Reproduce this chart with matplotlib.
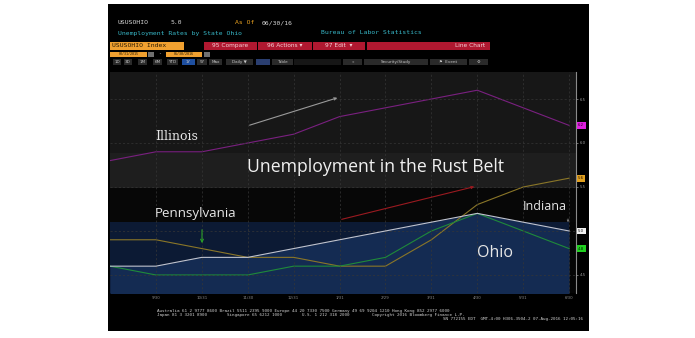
import matplotlib
matplotlib.use("Agg")
import matplotlib.pyplot as plt
from matplotlib.patches import Rectangle, FancyArrowPatch

# ---------------- data ----------------
months = ['8/31', '9/30', '10/31', '11/30', '12/31', '1/31', '2/29', '3/31', '4/30', '5/31', '6/30']
ohio = [4.6, 4.6, 4.7, 4.7, 4.8, 4.9, 5.0, 5.1, 5.2, 5.1, 5.0]
indiana = [4.6, 4.5, 4.5, 4.5, 4.6, 4.6, 4.7, 5.0, 5.2, 5.0, 4.8]
pennsylvania = [4.9, 4.9, 4.8, 4.7, 4.7, 4.6, 4.6, 4.9, 5.3, 5.5, 5.6]
illinois = [5.8, 5.9, 5.9, 6.0, 6.1, 6.3, 6.4, 6.5, 6.6, 6.4, 6.2]
yticks = [4.5, 5.0, 5.5, 6.0, 6.5]

W, H = 695, 338
fig = plt.figure(figsize=(W / 100, H / 100), dpi=100, facecolor='white')


def fx(x):
    return x / W


def fy(y):
    return 1 - y / H


def frect(x0, y0, x1, y1, color, z=1):
    fig.patches.append(Rectangle((fx(x0), fy(y1)), (x1 - x0) / W, (y1 - y0) / H,
                                 transform=fig.transFigure, facecolor=color,
                                 edgecolor='none', lw=0, zorder=z))


def ftext(x, y, s, color, size, ha='left', family='DejaVu Sans Mono', **kw):
    fig.text(fx(x), fy(y), s, color=color, fontsize=size, ha=ha, va='center',
             family=family, zorder=8, **kw)


# black terminal panel
frect(108, 4, 589, 331, 'black', z=-5)

# ---------------- header ----------------
mono = 4.6
ftext(118, 23, 'USUSOHIO', '#d8d8d8', mono)
ftext(171, 23, '5.0', '#d8d8d8', mono)
ftext(235, 23, 'As Of', '#e8a020', mono)
ftext(262, 23, '06/30/16', '#d8d8d8', mono)
ftext(118, 33, 'Unemployment Rates by State Ohio', '#38b8c8', mono)
ftext(321, 33, 'Bureau of Labor Statistics', '#38b8c8', mono)

# toolbar row
frect(110, 41.5, 184, 49.5, '#f0a030')
ftext(112, 45.5, 'USUSOHIO Index', '#2a1a00', 4.6)
red = '#b01830'
frect(204, 41.5, 257, 49.5, red)
frect(258, 41.5, 312, 49.5, red)
frect(313, 41.5, 365, 49.5, red)
frect(367, 41.5, 490, 49.5, red)
sans = 'DejaVu Sans'
ftext(230, 45.5, '95 Compare', '#f4d0d6', 4.2, ha='center', family=sans)
ftext(285, 45.5, '96 Actions \u25be', '#f4d0d6', 4.2, ha='center', family=sans)
ftext(339, 45.5, '97 Edit  \u25be', '#f4d0d6', 4.2, ha='center', family=sans)
ftext(485, 45.5, 'Line Chart', '#f4d0d6', 4.2, ha='right', family=sans)

# date row
frect(110, 51.5, 147, 56.5, '#f0a030')
ftext(128.5, 54, '08/31/2015', '#2a1a00', 2.4, ha='center')
frect(148, 51.5, 154, 56.5, '#707070')
ftext(160, 54, '-', '#cccccc', 3.5, ha='center')
frect(166, 51.5, 202, 56.5, '#f0a030')
ftext(184, 54, '06/30/2016', '#2a1a00', 2.4, ha='center')
frect(204, 51.5, 210, 56.5, '#707070')

# button row
btns = [(113, 121, '1D'), (124, 132, '3D'), (138, 147, '1M'), (153, 162, '6M'),
        (167, 178, 'YTD'), (182, 195, '1Y'), (197, 207, '5Y'), (209, 222, 'Max'),
        (226, 253, 'Daily \u25bc'), (256, 270, ''), (272, 293, 'Table'), (294, 341, ''),
        (343, 362, '\u00ab'), (364, 428, 'Security/Study'), (430, 467, '\u2691  Event'),
        (469, 488, '\u2699')]
for x0, x1, lab in btns:
    c = '#2a2a2a'
    if lab == '1Y':
        c = '#1e4fa0'
    elif x0 == 256:
        c = '#2a3e70'
    elif x0 == 294:
        c = '#161616'
    frect(x0, 59, x1, 64.5, c)
    if lab:
        ftext((x0 + x1) / 2, 61.8, lab, '#c8c8c8', 3.0, ha='center', family=sans)

# ---------------- chart axes ----------------
ax_l, ax_r, ax_t, ax_b = 110, 576, 72, 293
ax = fig.add_axes([fx(ax_l), fy(ax_b), (ax_r - ax_l) / W, (ax_b - ax_t) / H])
ax.set_zorder(2)
ax.set_facecolor('#171717')
xs = list(range(len(months)))
ax.set_xlim(0, 10.15)
ax.set_ylim(4.295, 6.807)


def afrac(y):
    return (ax_b - y) / (ax_b - ax_t)


def arect(x0, x1, y0, y1, color, z=0.1):
    ax.add_patch(Rectangle((x0, afrac(y1)), x1 - x0, afrac(y0) - afrac(y1),
                           transform=ax.transAxes, facecolor=color, edgecolor='none', zorder=z))


xend = (569 - ax_l) / (ax_r - ax_l)
arect(0, 1, 153, 188, '#1e1e1e')
arect(0, 1, 188, 222, '#070707')
arect(0, 1, 222, 293, '#050505')
arect(0, xend, 222, 293, '#0c1a34')

ax.grid(True, color='#363636', lw=0.5, ls=(0, (3, 3)), zorder=0.5)
ax.set_axisbelow(False)

ax.fill_between(xs, ohio, 4.0, color='#142b52', lw=0, zorder=1)
ax.plot(xs, illinois, color='#7a2080', lw=0.8, zorder=2)
ax.plot(xs, pennsylvania, color='#8a7628', lw=0.8, zorder=2)
ax.plot(xs, indiana, color='#1f8a3a', lw=0.8, zorder=2)
ax.plot(xs, ohio, color='#c0c4d0', lw=0.8, zorder=3)

for s in ['top', 'left', 'bottom']:
    ax.spines[s].set_visible(False)
ax.spines['right'].set_color('#8a8a8a')
ax.spines['right'].set_linewidth(0.8)
ax.yaxis.tick_right()
ax.set_yticks(yticks)
ax.set_yticklabels([f'{v:.1f}' for v in yticks])
ax.tick_params(axis='y', colors='#9a9a9a', labelsize=2.8, length=1.5, width=0.5, pad=1)
ax.set_xticks(xs[1:])
ax.set_xticklabels(months[1:])
ax.tick_params(axis='x', colors='#8a8a8a', labelsize=2.8, length=0, pad=2)

# last value tags
for vals, c, tc in [(illinois, '#e020e0', '#200020'), (pennsylvania, '#e0a020', '#201000'),
                    (ohio, '#f0f0f0', '#101010'), (indiana, '#20d020', '#002000')]:
    ax.annotate(f'{vals[-1]:.1f}', xy=(1, vals[-1]), xycoords=('axes fraction', 'data'),
                xytext=(1.5, 0), textcoords='offset points', fontsize=2.8, color=tc,
                va='center', ha='left', annotation_clip=False,
                bbox=dict(boxstyle='square,pad=0.35', fc=c, ec='none'), zorder=6)


# ---------------- annotations ----------------
def farrow(x0, y0, x1, y1, color, lw=0.8, ms=4):
    a = FancyArrowPatch((fx(x0), fy(y0)), (fx(x1), fy(y1)), transform=fig.transFigure,
                        arrowstyle='->', mutation_scale=ms, color=color, lw=lw, zorder=9)
    fig.add_artist(a)


farrow(247, 126, 340, 97, '#9a9a9a')
farrow(339, 220, 477, 186, '#9a1a20')
farrow(202, 227, 202, 246, '#2aa02a', ms=5)
farrow(568, 216, 568, 225, '#8a8a8a', lw=0.5, ms=3)

ftext(155, 136, 'Illinois', '#e6e6e6', 9, family='DejaVu Serif')
ftext(155, 213, 'Pennsylvania', '#e6e6e6', 9.6, family='Open Sans')
ftext(523, 207, 'Indiana', '#e6e6e6', 9, family='Open Sans')
ftext(477, 253, 'Ohio', '#e6e6e6', 11.5, family='Open Sans')
ftext(247, 167, 'Unemployment in the Rust Belt', '#f0f0f0', 12.7, family='Open Sans')

# ---------------- footer ----------------
foot = 3.1
ftext(157, 310.6, 'Australia 61 2 9777 8600 Brazil 5511 2395 9000 Europe 44 20 7330 7500 '
      'Germany 49 69 9204 1210 Hong Kong 852 2977 6000', '#d0d0d0', foot)
ftext(157, 314.6, 'Japan 81 3 3201 8900        Singapore 65 6212 1000        U.S. 1 212 318 2000'
      '         Copyright 2016 Bloomberg Finance L.P.', '#d0d0d0', foot)
ftext(583, 318.8, 'SN 772155 EDT  GMT-4:00 H306-3504-2 07-Aug-2016 12:05:16', '#d0d0d0', foot,
      ha='right')

fig.savefig('out.png', dpi=100, facecolor='white')
